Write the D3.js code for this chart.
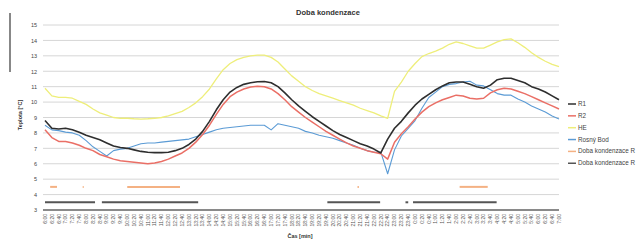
<!DOCTYPE html>
<html><head><meta charset="utf-8">
<script src="https://cdn.jsdelivr.net/npm/d3@7"></script>
<style>
html,body{margin:0;padding:0;background:#fff;}
svg{display:block;font-family:"Liberation Sans",Arial,sans-serif;}
</style></head>
<body><svg id="c" width="639" height="240"></svg>
<script>
const timeLabels = ["6:00","6:20","6:40","7:00","7:20","7:40","8:00","8:20","8:40","9:00","9:20","9:40",
"10:00","10:20","10:40","11:00","11:20","11:40","12:00","12:20","12:40","13:00","13:20","13:40",
"14:00","14:20","14:40","15:00","15:20","15:40","16:00","16:20","16:40","17:00","17:20","17:40",
"18:00","18:20","18:40","19:00","19:20","19:40","20:00","20:20","20:40","21:00","21:20","21:40",
"22:00","22:20","22:40","23:00","23:20","23:40","0:00","0:20","0:40","1:00","1:20","1:40",
"2:00","2:20","2:40","3:00","3:20","3:40","4:00","4:20","4:40","5:00","5:20","5:40","6:00","6:20","6:40","7:00"];

const yTicks = [3,4,5,6,7,8,9,10,11,12,13,14,15];

const R1 = [8.8,8.3,8.25,8.3,8.2,8.05,7.85,7.7,7.55,7.35,7.15,7.05,7.0,6.9,6.8,6.75,6.72,6.72,6.75,6.85,
7.0,7.25,7.6,8.1,8.75,9.5,10.15,10.65,10.95,11.15,11.25,11.32,11.33,11.25,11.0,10.6,10.15,9.75,9.4,9.05,
8.75,8.45,8.15,7.9,7.7,7.5,7.3,7.15,6.95,6.7,7.6,8.3,8.75,9.3,9.8,10.2,10.5,10.8,11.05,11.25,
11.3,11.3,11.15,11.0,10.9,11.1,11.45,11.55,11.55,11.4,11.25,11.0,10.85,10.65,10.4,10.15];

const R2 = [8.2,7.7,7.45,7.45,7.35,7.2,7.0,6.85,6.6,6.45,6.3,6.2,6.15,6.1,6.05,6.0,6.05,6.15,6.3,6.5,
6.7,7.0,7.4,7.9,8.5,9.2,9.85,10.35,10.65,10.85,10.98,11.02,11.0,10.85,10.55,10.15,9.7,9.35,9.0,8.7,
8.4,8.1,7.85,7.6,7.35,7.15,7.0,6.85,6.75,6.65,6.3,7.4,7.95,8.4,8.9,9.35,9.7,9.95,10.15,10.3,
10.45,10.4,10.25,10.2,10.25,10.6,10.8,10.9,10.85,10.7,10.55,10.35,10.15,9.95,9.75,9.55];

const HE = [10.9,10.4,10.3,10.3,10.25,10.05,9.85,9.55,9.3,9.15,9.0,8.95,8.95,8.92,8.9,8.92,8.95,9.0,9.1,9.25,
9.4,9.65,9.95,10.35,10.85,11.5,12.1,12.5,12.75,12.9,13.0,13.05,13.05,12.9,12.6,12.15,11.7,11.35,11.0,10.75,
10.55,10.4,10.25,10.1,9.95,9.8,9.6,9.45,9.3,9.1,8.95,10.7,11.3,12.0,12.5,12.95,13.15,13.3,13.5,13.75,
13.9,13.8,13.65,13.5,13.5,13.7,13.9,14.05,14.1,13.85,13.55,13.2,12.9,12.65,12.45,12.3];

const rosnyBod = [8.5,8.2,8.15,8.05,8.0,7.85,7.5,7.1,6.8,6.5,6.85,6.95,7.0,7.15,7.3,7.35,7.35,7.4,7.45,7.5,
7.55,7.6,7.75,7.9,8.05,8.2,8.3,8.35,8.4,8.45,8.5,8.5,8.5,8.2,8.6,8.5,8.4,8.3,8.1,8.0,
7.85,7.75,7.65,7.5,7.35,7.2,7.0,6.85,6.75,6.75,5.35,6.9,7.8,8.3,8.8,9.6,10.3,10.65,11.0,11.15,
11.2,11.3,11.35,11.1,11.05,10.8,10.55,10.45,10.45,10.2,10.0,9.75,9.55,9.35,9.1,8.9];

// condensation periods: [start, end] in label-index units, drawn at a fixed level
const kondR2Level = 4.5;
const kondR2 = [[0.75,1.75],[5.5,5.65],[12.0,19.7],[45.6,45.8],[60.5,64.6]];
const kondR1Level = 3.5;
const kondR1 = [[0,7.3],[8.3,22.35],[41.2,48.9],[52.6,53.0],[53.7,65.9]];

const seriesInfo = [
  {name:"R1", color:"#2e2e2e", width:1.6, data:R1},
  {name:"R2", color:"#ea6f66", width:1.5, data:R2},
  {name:"HE", color:"#eeee7a", width:1.3, data:HE},
  {name:"Rosný Bod", color:"#5b9bd5", width:1.1, data:rosnyBod}
];

const svg = d3.select("#c");
const x = d3.scaleLinear().domain([0, timeLabels.length-1]).range([45, 559]);
const y = d3.scaleLinear().domain([3,15]).range([210,25]);

// stray scan mark on the left
svg.append("line").attr("x1",10).attr("x2",10).attr("y1",13).attr("y2",72)
  .attr("stroke","#555").attr("stroke-width",1.4);

// title
svg.append("text").attr("x",328).attr("y",15).attr("text-anchor","middle")
  .attr("font-size",7.5).attr("font-weight","bold").attr("fill","#333").text("Doba kondenzace");

// gridlines
svg.append("g").selectAll("line").data(yTicks.filter(d=>d>3)).join("line")
  .attr("x1",43).attr("x2",559).attr("y1",d=>y(d)).attr("y2",d=>y(d))
  .attr("stroke","#d6d6d6").attr("stroke-width",1);

// y axis labels
const yAxis = d3.axisLeft(y).tickValues(yTicks).tickSize(0).tickPadding(0);
const ga = svg.append("g").attr("transform","translate(37,0)").call(yAxis);
ga.select(".domain").remove();
ga.selectAll("text").attr("font-size",5.5).attr("fill","#444").attr("font-family","Liberation Sans, Arial, sans-serif").attr("dy","0.32em");

// y title
svg.append("text").attr("transform","translate(22,115) rotate(-90)").attr("text-anchor","middle")
  .attr("font-size",5.5).attr("font-weight","bold").attr("fill","#333").text("Teplota [°C]");

// condensation segments
function segs(arr, level, color){
  svg.append("g").selectAll("line").data(arr).join("line")
    .attr("x1",d=>x(d[0])).attr("x2",d=>x(d[1])).attr("y1",y(level)).attr("y2",y(level))
    .attr("stroke",color).attr("stroke-width",2);
}
segs(kondR2, kondR2Level, "#f4b183");
segs(kondR1, kondR1Level, "#555555");

// series lines
const line = d3.line().x((d,i)=>x(i)).y(d=>y(d));
seriesInfo.slice().reverse().forEach(s=>{
  svg.append("path").datum(s.data).attr("d",line).attr("fill","none")
    .attr("stroke",s.color).attr("stroke-width",s.width).attr("stroke-linejoin","round");
});

// bottom axis
svg.append("line").attr("x1",43).attr("x2",559).attr("y1",y(3)).attr("y2",y(3))
  .attr("stroke","#8a8a8a").attr("stroke-width",2);

// x labels
svg.append("g").selectAll("text").data(timeLabels).join("text")
  .attr("transform",(d,i)=>`translate(${x(i)+1.8},214) rotate(-90)`)
  .attr("text-anchor","end").attr("font-size",5).attr("fill","#555").text(d=>d);

// x title
svg.append("text").attr("x",300).attr("y",238).attr("text-anchor","middle")
  .attr("font-size",5.5).attr("font-weight","bold").attr("fill","#333").text("Čas [min]");

// legend (the last two names are truncated at the image edge in the reference)
const legendItems = [
  {name:"R1", color:"#2e2e2e"},
  {name:"R2", color:"#ea6f66"},
  {name:"HE", color:"#eeee7a"},
  {name:"Rosný Bod", color:"#5b9bd5"},
  {name:"Doba kondenzace R", color:"#f4b183"},
  {name:"Doba kondenzace R", color:"#555555"}
];
const lg = svg.append("g").selectAll("g").data(legendItems).join("g")
  .attr("transform",(d,i)=>`translate(568,${104+i*11.85})`);
lg.append("line").attr("x1",0).attr("x2",8).attr("stroke",d=>d.color).attr("stroke-width",1.5);
lg.append("text").attr("x",10).attr("dy","0.33em").attr("font-size",6.3).attr("fill","#444").text(d=>d.name);
</script></body></html>
